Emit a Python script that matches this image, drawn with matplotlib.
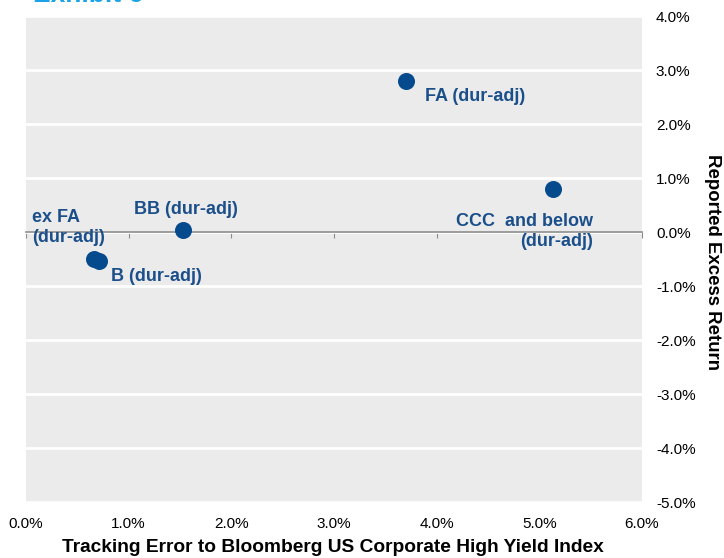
import matplotlib.pyplot as plt
from matplotlib.ticker import FuncFormatter
import matplotlib.transforms as mtransforms

plt.rcParams['font.family'] = ['Liberation Sans', 'DejaVu Sans']

# tracking error (%) vs reported excess return (%)
labels = ["FA (dur-adj)", "CCC  and below\n(dur-adj)", "BB (dur-adj)", "ex FA\n(dur-adj)", "B (dur-adj)"]
tracking_error = [3.70, 5.13, 1.53, 0.66, 0.71]
excess_return = [2.80, 0.80, 0.04, -0.50, -0.53]

x_ticks = [0, 1, 2, 3, 4, 5, 6]
y_ticks = [4, 3, 2, 1, 0, -1, -2, -3, -4, -5]

# label placement: offset in points and alignment
label_pos = [((13.5, -11), 'left'), ((29, -31), 'right'), ((-35, 15), 'left'),
             ((-44.5, 22.5), 'left'), ((8.5, -11.5), 'left')]

point_color = "#044a8c"
text_color = "#1b4f8a"

fig = plt.figure(figsize=(7.24, 5.58), dpi=100)
ax = fig.add_axes([26 / 724, 56 / 558, 616 / 724, 486 / 558])
ax.set_facecolor("#ebebeb")
ax.set_xlim(0, 6)
ax.set_ylim(-5, 4)

for s in ax.spines.values():
    s.set_visible(False)
ax.spines['bottom'].set_visible(True)
ax.spines['bottom'].set_position(('data', 0))
ax.spines['bottom'].set_color("#8c8c8c")
ax.spines['bottom'].set_linewidth(1.2)

ax.set_yticks(y_ticks)
ax.yaxis.tick_right()
ax.yaxis.set_major_formatter(FuncFormatter(lambda v, p: f"{v:.1f}%"))
ax.tick_params(axis='y', length=0, pad=10, labelsize=11)
ax.grid(axis='y', color='white', linewidth=2)
ax.set_axisbelow(True)

ax.set_xticks(x_ticks)
ax.tick_params(axis='x', direction='out', length=4, color="#8c8c8c", labelbottom=False)
trans = mtransforms.blended_transform_factory(ax.transData, ax.transAxes)
for t in x_ticks:
    ax.text(t, -0.045, f"{t:.1f}%", transform=trans, ha='center', va='center', fontsize=11)

ax.scatter(tracking_error, excess_return, s=150, color=point_color, zorder=3, linewidths=0)

for lab, x, y, (off, ha) in zip(labels, tracking_error, excess_return, label_pos):
    ax.annotate(lab, (x, y), xytext=off, textcoords='offset points', ha=ha, va='center',
                multialignment=ha, fontsize=13, fontweight='bold', color=text_color,
                linespacing=1.25)

fig.text(333 / 724, 1 - 548 / 558, "Tracking Error to Bloomberg US Corporate High Yield Index",
         ha='center', va='center', fontsize=13.8, fontweight='bold')
fig.text(712 / 724, 1 - 262 / 558, "Reported Excess Return", rotation=-90,
         ha='center', va='center', fontsize=13.4, fontweight='bold')
fig.text(33 / 724, 1 - 1.5 / 558, "Exhibit 6", ha='left', va='baseline',
         fontsize=19, fontweight='bold', color="#1aa3e8")

fig.savefig("out.png", dpi=100)
